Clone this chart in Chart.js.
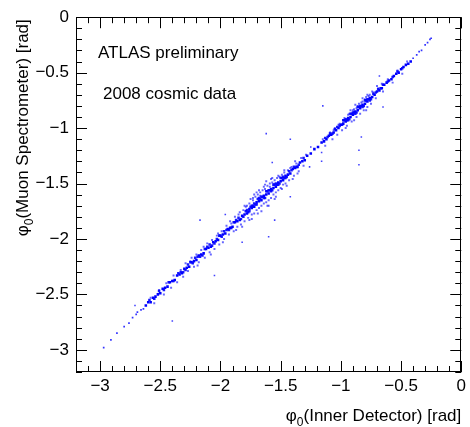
<!DOCTYPE html>
<html>
<head>
<meta charset="utf-8">
<script src="https://cdn.jsdelivr.net/npm/chart.js@4"></script>
<style>
  html, body { margin: 0; padding: 0; background: #fff; }
  #phiChart { display: block; }
</style>
</head>
<body>
<canvas id="phiChart" width="470" height="427"></canvas>
<script>
// phi0 Inner Detector vs phi0 Muon Spectrometer (ATLAS 2008 cosmics)

const AXIS_MIN = -3.2;
const AXIS_MAX = 0;
const xTickValues = [-3, -2.5, -2, -1.5, -1, -0.5, 0];
const yTickValues = [-3, -2.5, -2, -1.5, -1, -0.5, 0];

// sparse ends of the diagonal  [phi ID, phi MS]
const tailPoints = [
  [-2.97,-2.98],[-2.91,-2.91],[-2.86,-2.85],[-2.80,-2.79],[-2.76,-2.76],[-2.73,-2.71],[-2.70,-2.68],[-2.69,-2.66],[-2.66,-2.64],[-2.64,-2.63],
  [-0.40,-0.37],[-0.37,-0.34],[-0.35,-0.31],[-0.33,-0.30],[-0.30,-0.25],[-0.28,-0.23],[-0.26,-0.20],[-0.25,-0.19]
];

// dense band along the diagonal
const corePoints = [
  [-2.62,-2.60],[-2.60,-2.57],[-2.58,-2.57],[-2.56,-2.53],[-2.54,-2.52],[-2.52,-2.50],[-2.50,-2.49],[-2.48,-2.45],[-2.46,-2.44],[-2.44,-2.43],
  [-2.42,-2.39],[-2.40,-2.38],[-2.38,-2.37],[-2.36,-2.33],[-2.34,-2.32],[-2.32,-2.31],[-2.30,-2.27],[-2.28,-2.26],[-2.26,-2.25],[-2.24,-2.21],
  [-2.22,-2.20],[-2.20,-2.19],[-2.18,-2.15],[-2.16,-2.14],[-2.14,-2.13],[-2.12,-2.09],[-2.10,-2.08],[-2.08,-2.07],[-2.06,-2.03],[-2.04,-2.02],
  [-2.02,-2.01],[-2.00,-1.97],[-1.98,-1.96],[-1.96,-1.95],[-1.94,-1.91],[-1.92,-1.90],[-1.90,-1.89],[-1.88,-1.85],[-1.86,-1.84],[-1.84,-1.83],
  [-1.82,-1.79],[-1.80,-1.78],[-1.78,-1.77],[-1.76,-1.73],[-1.74,-1.72],[-1.72,-1.71],[-1.70,-1.67],[-1.68,-1.66],[-1.66,-1.65],[-1.64,-1.61],
  [-1.62,-1.60],[-1.60,-1.59],[-1.58,-1.55],[-1.56,-1.54],[-1.54,-1.53],[-1.52,-1.49],[-1.50,-1.48],[-1.48,-1.47],[-1.46,-1.43],[-1.44,-1.42],
  [-1.42,-1.41],[-1.40,-1.37],[-1.38,-1.36],[-1.36,-1.35],[-1.34,-1.31],[-1.32,-1.30],[-1.30,-1.29],[-1.28,-1.25],
  [-1.25,-1.23],[-1.22,-1.19],[-1.19,-1.17],
  [-1.16,-1.13],[-1.14,-1.12],[-1.12,-1.10],[-1.10,-1.07],[-1.08,-1.06],[-1.06,-1.04],[-1.04,-1.02],[-1.02,-1.00],[-1.00,-0.97],[-0.98,-0.96],
  [-0.96,-0.94],[-0.94,-0.91],[-0.92,-0.90],[-0.90,-0.88],[-0.88,-0.85],[-0.86,-0.84],[-0.84,-0.82],[-0.82,-0.79],[-0.80,-0.78],[-0.78,-0.76],
  [-0.76,-0.73],[-0.74,-0.72],[-0.72,-0.70],[-0.70,-0.67],[-0.68,-0.66],[-0.66,-0.64],[-0.64,-0.61],[-0.62,-0.59],[-0.60,-0.57],[-0.58,-0.56],
  [-0.56,-0.53],[-0.54,-0.51],[-0.52,-0.50],[-0.50,-0.47],[-0.48,-0.45],[-0.46,-0.43],[-0.44,-0.42],[-0.42,-0.40]
];

// extra entries where the band is thickest
const bandPoints = [
  [-2.31,-2.30],[-2.27,-2.23],[-2.23,-2.22],[-2.19,-2.16],[-2.15,-2.15],[-2.11,-2.07],[-2.07,-2.06],[-2.03,-2.00],[-1.99,-1.98],[-1.95,-1.92],
  [-1.91,-1.90],[-1.87,-1.83],[-1.83,-1.82],[-1.79,-1.75],[-1.77,-1.76],[-1.75,-1.71],[-1.73,-1.70],[-1.71,-1.69],[-1.69,-1.64],[-1.67,-1.64],
  [-1.65,-1.62],[-1.63,-1.63],[-1.61,-1.57],[-1.59,-1.56],[-1.57,-1.56],[-1.55,-1.51],[-1.53,-1.51],[-1.51,-1.50],[-1.49,-1.45],[-1.47,-1.45],
  [-1.45,-1.44],[-1.41,-1.38],[-1.37,-1.35],
  [-1.11,-1.08],[-1.07,-1.05],[-1.03,-0.99],[-0.99,-0.97],[-0.97,-0.93],[-0.95,-0.93],[-0.93,-0.92],[-0.91,-0.87],[-0.89,-0.86],[-0.87,-0.86],
  [-0.85,-0.81],[-0.83,-0.80],[-0.81,-0.80],[-0.79,-0.75],[-0.77,-0.74],[-0.75,-0.74],[-0.71,-0.68],[-0.67,-0.64],
  [-2.59,-2.55],[-2.55,-2.54],[-2.51,-2.47],[-2.47,-2.46],[-2.43,-2.39],[-2.39,-2.38],[-2.35,-2.31],[-2.33,-2.30],[-2.29,-2.28],[-2.25,-2.21],
  [-2.21,-2.17],[-2.17,-2.16],[-2.13,-2.09],[-2.09,-2.05],[-2.05,-2.04],[-2.01,-1.97],[-1.97,-1.93],[-1.93,-1.92],[-1.89,-1.85],[-1.85,-1.81],
  [-1.81,-1.80],[-1.78,-1.74],[-1.76,-1.75],[-1.74,-1.70],[-1.72,-1.68],[-1.70,-1.69],[-1.68,-1.63],[-1.66,-1.62],[-1.64,-1.63],[-1.62,-1.57],
  [-1.60,-1.56],[-1.58,-1.57],[-1.56,-1.51],[-1.54,-1.50],[-1.52,-1.51],[-1.50,-1.45],[-1.48,-1.44],[-1.46,-1.45],[-1.43,-1.39],[-1.39,-1.35],
  [-1.35,-1.33],[-1.31,-1.27],
  [-1.13,-1.09],[-1.09,-1.05],[-1.05,-1.01],[-1.01,-0.98],[-0.98,-0.93],[-0.96,-0.92],[-0.94,-0.93],[-0.92,-0.87],[-0.90,-0.86],[-0.88,-0.87],
  [-0.86,-0.81],[-0.84,-0.80],[-0.82,-0.81],[-0.80,-0.75],[-0.78,-0.74],[-0.76,-0.75],[-0.73,-0.69],[-0.69,-0.65],[-0.65,-0.61],[-0.61,-0.58],
  [-0.57,-0.54],[-0.53,-0.49],[-0.49,-0.46]
];

// lighter spread around the band
const haloPoints = [
  [-2.58,-2.53],[-2.55,-2.58],[-2.51,-2.46],[-2.47,-2.50],[-2.45,-2.40],[-2.41,-2.44],[-2.39,-2.33],[-2.36,-2.39],[-2.33,-2.28],[-2.31,-2.34],
  [-2.29,-2.22],[-2.27,-2.29],[-2.25,-2.20],[-2.22,-2.25],[-2.20,-2.14],[-2.18,-2.21],[-2.16,-2.10],[-2.13,-2.17],[-2.11,-2.04],[-2.09,-2.12],
  [-2.07,-2.01],[-2.05,-2.09],[-2.03,-1.97],[-2.01,-2.05],[-1.99,-1.93],[-1.97,-2.00],[-1.95,-1.88],[-1.93,-1.96],[-1.91,-1.86],[-1.89,-1.93],
  [-1.88,-1.80],[-1.86,-1.89],[-1.85,-1.78],[-1.83,-1.87],[-1.81,-1.74],[-1.80,-1.84],[-1.78,-1.70],[-1.77,-1.81],[-1.76,-1.68],[-1.74,-1.78],
  [-1.73,-1.65],[-1.72,-1.77],[-1.71,-1.62],[-1.70,-1.74],[-1.69,-1.60],[-1.68,-1.72],[-1.67,-1.58],[-1.66,-1.70],[-1.65,-1.56],[-1.64,-1.68],
  [-1.63,-1.55],[-1.62,-1.67],[-1.61,-1.52],[-1.60,-1.65],[-1.59,-1.50],[-1.58,-1.63],[-1.57,-1.49],[-1.56,-1.60],[-1.55,-1.47],[-1.54,-1.58],
  [-1.53,-1.45],[-1.52,-1.56],[-1.51,-1.44],[-1.50,-1.54],[-1.49,-1.42],[-1.48,-1.51],[-1.47,-1.40],[-1.46,-1.50],[-1.44,-1.38],[-1.43,-1.47],
  [-1.41,-1.35],[-1.39,-1.43],[-1.37,-1.32],[-1.35,-1.39],
  [-1.80,-1.70],[-1.75,-1.64],[-1.72,-1.60],[-1.68,-1.56],[-1.63,-1.51],[-1.58,-1.46],[-1.74,-1.82],[-1.66,-1.75],[-1.60,-1.70],[-1.55,-1.64],
  [-1.70,-1.58],[-1.62,-1.48],
  [-2.24,-2.17],[-2.19,-2.24],[-2.14,-2.07],[-2.08,-2.14],[-2.02,-1.95],[-1.98,-2.03],[-1.92,-1.84],[-1.87,-1.92],[-1.84,-1.76],[-1.82,-1.89],
  [-1.79,-1.71],[-1.76,-1.83],[-1.73,-1.63],[-1.69,-1.77],[-1.67,-1.61],[-1.64,-1.53],[-1.61,-1.70],[-1.59,-1.53],[-1.57,-1.45],[-1.54,-1.62],
  [-1.52,-1.43],[-1.49,-1.55],[-1.47,-1.38],[-1.45,-1.52],[-1.42,-1.36],[-1.40,-1.46],[-1.38,-1.30],[-1.36,-1.41],
  [-1.33,-1.27],[-1.31,-1.34],[-1.29,-1.24],
  [-1.15,-1.10],[-1.13,-1.16],[-1.09,-1.04],[-1.07,-1.10],[-1.05,-1.00],[-1.03,-1.06],[-1.01,-0.96],[-0.99,-1.02],[-0.97,-0.91],[-0.95,-0.98],
  [-0.93,-0.87],[-0.91,-0.94],[-0.89,-0.83],[-0.87,-0.90],[-0.86,-0.80],[-0.84,-0.87],[-0.83,-0.77],[-0.81,-0.84],[-0.80,-0.74],[-0.78,-0.81],
  [-0.77,-0.71],[-0.75,-0.78],[-0.73,-0.68],[-0.71,-0.73],[-0.88,-0.79],[-0.82,-0.73],[-0.78,-0.70],[-0.92,-0.84],
  [-1.06,-1.02],[-1.02,-0.97],[-0.98,-0.93],[-0.96,-1.00],[-0.94,-0.88],[-0.90,-0.84],[-0.87,-0.82],[-0.85,-0.78],[-0.82,-0.76],[-0.79,-0.72],
  [-0.76,-0.70],[-0.74,-0.67],[-0.79,-0.84],[-0.89,-0.93],[-0.70,-0.62],[-0.66,-0.60],
  [-0.69,-0.64],[-0.65,-0.67],[-0.61,-0.56],[-0.57,-0.59],[-0.53,-0.48],[-0.49,-0.51],[-0.45,-0.40]
];

// isolated entries away from the band
const outlierPoints = [
  [-2.71,-2.60],[-2.40,-2.74],[-2.17,-1.83],[-2.05,-2.33],[-1.96,-1.78],[-1.82,-2.03],[-1.60,-1.98],[-1.55,-1.83],
  [-1.62,-1.05],[-1.42,-1.10],[-1.57,-1.31],[-1.42,-1.62],[-1.15,-0.80],[-1.16,-1.22],[-1.16,-1.30],[-1.25,-1.17],
  [-1.26,-1.35],[-0.83,-1.08],[-0.85,-1.20],[-0.85,-1.33],[-0.65,-0.81],[-0.68,-0.53]
];

const FONT = '"Liberation Sans", Arial, Helvetica, sans-serif';

function toXY(list){ return list.map(p => ({x: p[0], y: p[1]})); }
function fmtTick(v){ return v === 0 ? '0' : String(v).replace('-', '\u2212'); }

// ROOT-like frame with inward ticks, axis titles and labels
const rootFrame = {
  id: 'rootFrame',
  afterDatasetsDraw(chart){
    const {ctx, chartArea: a, scales} = chart;
    const xs = scales.x, ys = scales.y;
    ctx.save();
    ctx.strokeStyle = '#000';
    ctx.lineWidth = 1;
    ctx.strokeRect(Math.round(a.left) + 0.5, Math.round(a.top) + 0.5,
      Math.round(a.right - a.left) - 1, Math.round(a.bottom - a.top) - 1);

    ctx.beginPath();
    for (let i = -32; i <= 0; i++) {
      const v = i / 10;
      const major = i % 5 === 0;
      const len = major ? 11 : 6;
      const px = Math.round(xs.getPixelForValue(v)) + 0.5;
      ctx.moveTo(px, a.bottom); ctx.lineTo(px, a.bottom - len);
      ctx.moveTo(px, a.top); ctx.lineTo(px, a.top + len);
      const py = Math.round(ys.getPixelForValue(v)) + 0.5;
      ctx.moveTo(a.left, py); ctx.lineTo(a.left + len, py);
      ctx.moveTo(a.right, py); ctx.lineTo(a.right - len, py);
    }
    ctx.stroke();

    ctx.fillStyle = '#000';
    ctx.textBaseline = 'alphabetic';
    ctx.font = '17px ' + FONT;
    ctx.textAlign = 'left';
    ctx.fillText('ATLAS preliminary', 98, 58);
    ctx.fillText('2008 cosmic data', 103, 99);

    drawSubTitle(ctx, 'φ', '0', '(Inner Detector) [rad]', a.right, 421, 0);
    drawSubTitle(ctx, 'φ', '0', '(Muon Spectrometer) [rad]', 28, a.top + 2, -Math.PI / 2);
    ctx.restore();
  }
};

// right-aligned title with a subscript, anchored at (ax, ay)
function drawSubTitle(ctx, head, sub, tail, ax, ay, rot){
  const big = '17px ' + FONT, small = '12px ' + FONT;
  ctx.font = big; const wHead = ctx.measureText(head).width; const wTail = ctx.measureText(tail).width;
  ctx.font = small; const wSub = ctx.measureText(sub).width;
  const total = wHead + wSub + wTail;
  ctx.save();
  ctx.translate(ax, ay);
  ctx.rotate(rot);
  ctx.textAlign = 'left';
  ctx.font = big; ctx.fillText(head, -total, 0);
  ctx.font = small; ctx.fillText(sub, -total + wHead, 5);
  ctx.font = big; ctx.fillText(tail, -total + wHead + wSub, 0);
  ctx.restore();
}

new Chart(document.getElementById('phiChart'), {
  type: 'scatter',
  data: {
    datasets: [
      {label: 'core', data: toXY(corePoints), backgroundColor: 'rgb(0,0,255)', pointRadius: 1.8},
      {label: 'band', data: toXY(bandPoints), backgroundColor: 'rgba(0,0,255,0.9)', pointRadius: 1.8},
      {label: 'tails', data: toXY(tailPoints), backgroundColor: 'rgba(0,0,255,0.8)', pointRadius: 1.2},
      {label: 'outliers', data: toXY(outlierPoints), backgroundColor: 'rgba(0,0,255,0.75)', pointRadius: 1.1},
      {label: 'halo', data: toXY(haloPoints), backgroundColor: 'rgba(0,0,255,0.6)', pointRadius: 1.4}
    ]
  },
  options: {
    responsive: false,
    animation: false,
    devicePixelRatio: 1,
    layout: {padding: {left: 0, top: 16, right: 7, bottom: 0}},
    elements: {point: {pointStyle: 'rect', borderWidth: 0, hoverRadius: 1.8}},
    plugins: {legend: {display: false}, tooltip: {enabled: false}},
    scales: {
      x: {
        type: 'linear', min: AXIS_MIN, max: AXIS_MAX,
        grid: {display: false, drawTicks: false}, border: {display: false},
        afterBuildTicks: s => { s.ticks = xTickValues.map(v => ({value: v})); },
        afterFit: s => { s.height = 55; },
        ticks: {color: '#000', padding: 4, maxRotation: 0, autoSkip: false,
          font: {family: FONT, size: 17}, callback: v => fmtTick(v)}
      },
      y: {
        type: 'linear', min: AXIS_MIN, max: AXIS_MAX,
        grid: {display: false, drawTicks: false}, border: {display: false},
        afterBuildTicks: s => { s.ticks = yTickValues.map(v => ({value: v})); },
        afterFit: s => { s.width = 76; },
        ticks: {color: '#000', padding: 7, autoSkip: false,
          font: {family: FONT, size: 17}, callback: v => fmtTick(v)}
      }
    }
  },
  plugins: [rootFrame]
});
</script>
</body>
</html>
